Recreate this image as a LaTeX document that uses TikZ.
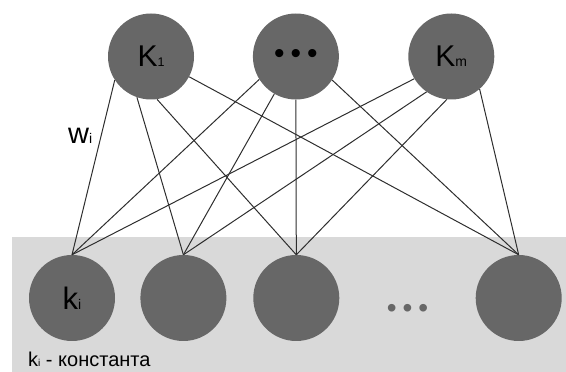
\documentclass[tikz,border=0pt]{standalone}
\usepackage{fontspec}
\setmainfont{Liberation Sans}
\usepackage{tikz}
\usetikzlibrary{positioning,calc}

\definecolor{unitgray}{HTML}{676767}
\definecolor{bandgray}{HTML}{D9D9D9}
\definecolor{linkgray}{HTML}{2E2E2E}

% small index sitting on the baseline
\newcommand{\smallidx}[2]{{\fontsize{#1}{#1}\selectfont #2}}

\begin{document}
\begin{tikzpicture}[
  x=1pt, y=1pt,
  node distance=25pt,
  unit/.style={circle, fill=unitgray, minimum size=86pt, inner sep=0pt, font=\fontsize{30}{30}\selectfont},
  link/.style={line width=1pt, draw=linkgray},
  dotrow/.style={inner sep=0pt, font=\fontsize{28}{28}\selectfont}
]
\useasboundingbox (0,0) rectangle (566,372);
\fill[bandgray] (12,0) rectangle (566,135);

% output units K
\node[unit] (K1) at (151,315.5) {K\smallidx{12.5}{1}};
\node[unit, right=58.5pt of K1] (Kdots) {\textbullet\hspace{6pt}\textbullet\hspace{6pt}\textbullet};
\node[unit, right=69pt of Kdots] (Km) {K\smallidx{14}{m}};

% input units k
\node[unit, font=\fontsize{31}{31}\selectfont] (k1) at (72,74) {k\smallidx{14}{i}};
\node[unit, right=25pt of k1] (k2) {};
\node[unit, right=26.5pt of k2] (k3) {};
\node[unit, right=136pt of k3] (k4) {};
\node[dotrow, text=unitgray] (kdots) at ($(k3)!0.5!(k4)+(0,-13)$) {\textbullet\hspace{6pt}\textbullet\hspace{6pt}\textbullet};

% weights
\draw[link] (K1.213) -- node[pos=0.32, left=5pt, font=\fontsize{29}{29}\selectfont] (wi) {w\smallidx{14}{i}} (k1.north);
\foreach \a/\b in {251/k2, 278/k3, 332/k4}
  \draw[link] (K1.\a) -- (\b.north);
\foreach \a/\b in {212/k1, 240/k2, 270/k3, 327/k4}
  \draw[link] (Kdots.\a) -- (\b.north);
\foreach \a/\b in {211/k1, 235/k2, 264/k3, 311/k4}
  \draw[link] (Km.\a) -- (\b.north);

\node[anchor=base west, inner sep=0pt, font=\fontsize{20}{20}\selectfont] (note) at (28,5) {k\smallidx{10}{i} - константа};
\end{tikzpicture}
\end{document}
